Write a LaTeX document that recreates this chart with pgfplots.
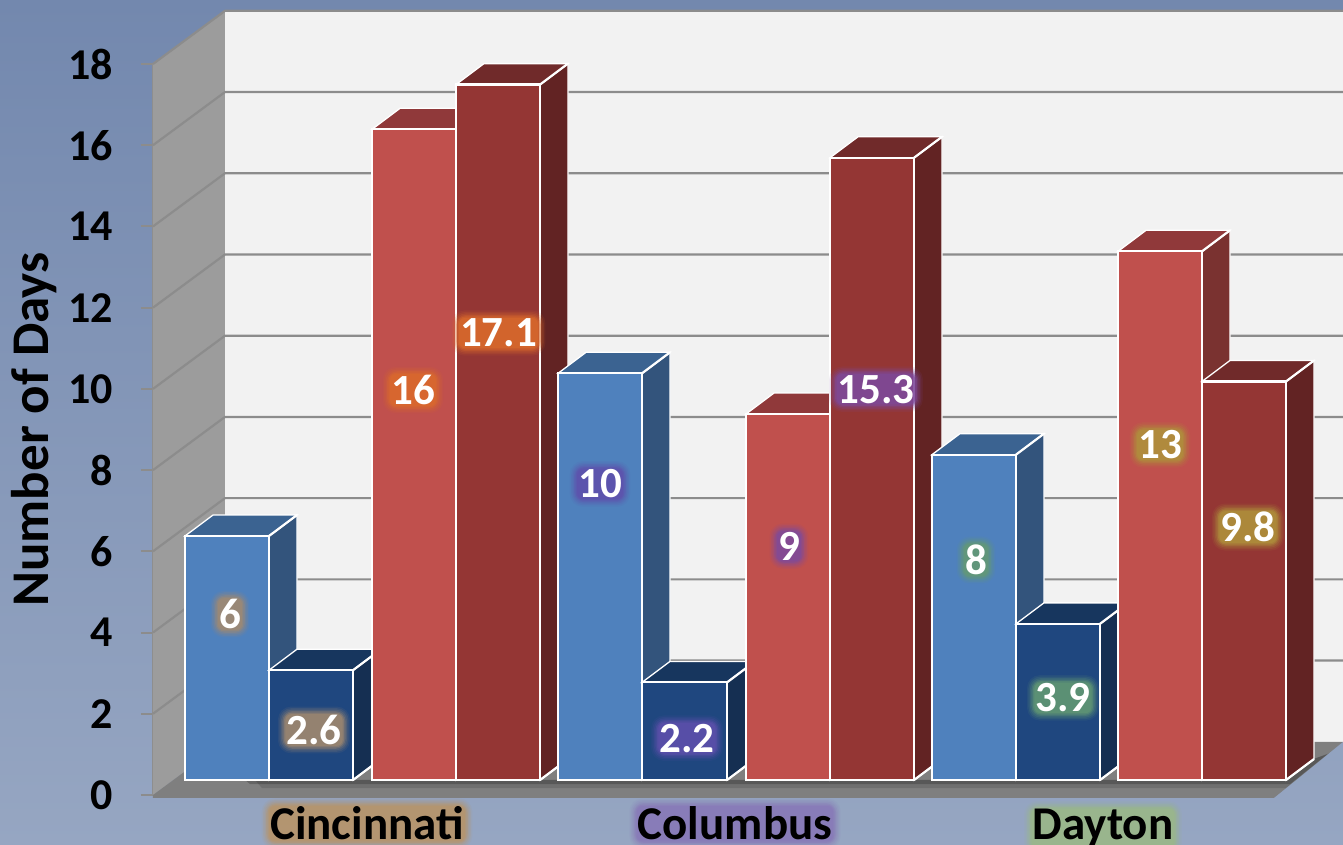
\documentclass[border=0pt]{standalone}
\usepackage{pgfplots}
\pgfplotsset{compat=1.18}
\usepackage{fontspec}
\setmainfont{Carlito}
\definecolor{bgtop}{HTML}{7388AE}
\definecolor{bgbot}{HTML}{96A6C2}
\definecolor{wall}{HTML}{F2F2F2}
\definecolor{lwall}{HTML}{9C9C9C}
\definecolor{floorc}{HTML}{7F7F7F}
\definecolor{gridc}{HTML}{8C8C8C}
\definecolor{bluF}{HTML}{4F81BD}\definecolor{bluS}{HTML}{33547C}\definecolor{bluT}{HTML}{3B6391}
\definecolor{nvyF}{HTML}{1F477F}\definecolor{nvyS}{HTML}{152F52}\definecolor{nvyT}{HTML}{17365E}
\definecolor{redF}{HTML}{C0504D}\definecolor{redS}{HTML}{7A3230}\definecolor{redT}{HTML}{90393A}
\definecolor{drkF}{HTML}{943634}\definecolor{drkS}{HTML}{622323}\definecolor{drkT}{HTML}{702A2A}
\definecolor{gBrown}{HTML}{A38A70}
\definecolor{gOrange}{HTML}{DB6A2C}
\definecolor{gBlue}{HTML}{5F50AC}
\definecolor{gPurple}{HTML}{7E4A9C}
\definecolor{gGreen}{HTML}{649A74}
\definecolor{gGold}{HTML}{B0923C}
\definecolor{gTan}{HTML}{B89468}
\definecolor{gViol}{HTML}{8878B8}
\definecolor{gLime}{HTML}{9AB888}
\newcommand\tickbf{\fontsize{44}{48}\bfseries\selectfont}
\newcommand\catbf{\fontsize{47}{52}\bfseries\selectfont}
\newcommand\titbf{\fontsize{53}{58}\bfseries\selectfont}
\newcommand\lblbf{\fontsize{43}{47}\bfseries\selectfont}
% one 3-D bar: x0, x1, height, front, side, top colours
\newcommand\tdbar[6]{%
  \pgfmathsetmacro\xa{#2+28}\pgfmathsetmacro\xb{#1+28}\pgfmathsetmacro\vb{#3+0.516}%
  \addplot[fill=#5,draw=white,line width=1.3pt,forget plot] coordinates {(#2,0)(\xa,0.516)(\xa,\vb)(#2,#3)} --cycle;
  \addplot[fill=#6,draw=white,line width=1.3pt,forget plot] coordinates {(#1,#3)(\xb,\vb)(\xa,\vb)(#2,#3)} --cycle;
  \addplot[white,line width=2.2pt,forget plot] coordinates {(#2,#3)(\xa,\vb)};
  \addplot[white,line width=2.2pt,forget plot] coordinates {(#2,0)(\xa,0.516)};
  \addplot[fill=#4,draw=white,line width=2.2pt,forget plot] coordinates {(#1,0)(#1,#3)(#2,#3)(#2,0)} --cycle;
}
\newcommand\halo[5]{% anchor, position, colour, font, text
  \node[anchor=#1,fill=#3,fill opacity=.10,inner sep=8.5pt,rounded corners=13pt,font=#4] at #2 {\phantom{#5}};
  \node[anchor=#1,fill=#3,fill opacity=.15,inner sep=7pt,rounded corners=12pt,font=#4] at #2 {\phantom{#5}};
  \node[anchor=#1,fill=#3,fill opacity=.20,inner sep=5.5pt,rounded corners=11pt,font=#4] at #2 {\phantom{#5}};
  \node[anchor=#1,fill=#3,fill opacity=.30,inner sep=4pt,rounded corners=10pt,font=#4] at #2 {\phantom{#5}};
  \node[anchor=#1,fill=#3,fill opacity=.45,inner sep=2.5pt,rounded corners=8pt,font=#4] at #2 {\phantom{#5}};
  \node[anchor=#1,fill=#3,fill opacity=.55,inner sep=1pt,rounded corners=6pt,font=#4] at #2 {\phantom{#5}};
}
\newcommand\lab[4]{% x, y, glow, text
  \halo{center}{(axis cs:#1,#2)}{#3}{\lblbf}{#4}
  \node[anchor=center,text=white,font=\lblbf,inner sep=0pt] at (axis cs:#1,#2) {#4};
}
\begin{document}
\begin{tikzpicture}[x=1pt,y=1pt]
\shade[top color=bgtop,bottom color=bgbot] (0,0) rectangle (1343,845);
\useasboundingbox (0,0) rectangle (1343,845);
\clip (0,0) rectangle (1343,845);
\halo{base}{(367,5)}{gTan}{\catbf}{Cincinnati}
\halo{base}{(735,5)}{gViol}{\catbf}{Columbus}
\halo{base}{(1103,5)}{gLime}{\catbf}{Dayton}
% walls, gridlines and value axis
\begin{axis}[
  at={(153pt,50pt)},anchor=south west,scale only axis,
  width=1190pt,height=731pt,clip=false,
  xmin=153,xmax=1343,ymin=0,ymax=18,
  axis x line=none,axis y line=left,
  axis line style={-,draw=gridc,line width=2pt},
  ytick={0,2,...,18},
  major tick length=12pt,tick align=outside,
  ytick style={draw=gridc,line width=2pt},
  tick label style={font=\tickbf,/pgf/number format/assume math mode=true},
  yticklabel style={inner sep=0pt,xshift=-28pt},
  ylabel={Number of Days},
  ylabel style={font=\titbf,at={(axis description cs:-0.0882,0.5)},anchor=base,rotate=0},
]
\addplot[fill=lwall,draw=none,forget plot] coordinates {(153,0)(225,1.31)(225,19.31)(153,18)} --cycle;
\addplot[fill=wall,draw=none,forget plot] coordinates {(225,1.31)(225,19.31)(1343,19.31)(1343,1.31)} --cycle;
\addplot[gridc,line width=2.2pt,forget plot] coordinates {(153,18)(225,19.31)(1343,19.31)};
\addplot[gridc,line width=2.2pt,forget plot] coordinates {(153,2)(225,3.31)(1343,3.31)};
\addplot[gridc,line width=2.2pt,forget plot] coordinates {(153,4)(225,5.31)(1343,5.31)};
\addplot[gridc,line width=2.2pt,forget plot] coordinates {(153,6)(225,7.31)(1343,7.31)};
\addplot[gridc,line width=2.2pt,forget plot] coordinates {(153,8)(225,9.31)(1343,9.31)};
\addplot[gridc,line width=2.2pt,forget plot] coordinates {(153,10)(225,11.31)(1343,11.31)};
\addplot[gridc,line width=2.2pt,forget plot] coordinates {(153,12)(225,13.31)(1343,13.31)};
\addplot[gridc,line width=2.2pt,forget plot] coordinates {(153,14)(225,15.31)(1343,15.31)};
\addplot[gridc,line width=2.2pt,forget plot] coordinates {(153,16)(225,17.31)(1343,17.31)};
\addplot[fill=floorc,draw=none,forget plot] coordinates {(153,-0.07)(153,0)(225,1.31)(1343,1.31)(1274,-0.07)} --cycle;
\addplot[fill=black,fill opacity=.12,draw=none,forget plot] coordinates {(255,.37)(1286,.37)(1315,.9)(1329,1.03)(1286,.17)(262,.17)} --cycle;
\addplot[fill=black,fill opacity=.2,draw=none,forget plot] coordinates {(245,.37)(1286,.37)(1315,.9)(1327,1.0)(1290,.27)(250,.27)} --cycle;
\end{axis}
% bars
\begin{axis}[
  at={(0pt,65pt)},anchor=south west,scale only axis,
  width=1343pt,height=732pt,clip=false,
  xmin=0,xmax=1343,ymin=0,ymax=18,
  axis y line=none,axis x line*=bottom,
  x axis line style={draw=none},
  xtick={367,735,1103},xticklabels={Cincinnati,Columbus,Dayton},
  xtick style={draw=none},major tick length=0pt,
  xticklabel style={font=\catbf,anchor=base,inner sep=0pt,yshift=-60pt},
]
\tdbar{185}{269}{6}{bluF}{bluS}{bluT}
\tdbar{269}{353}{2.7}{nvyF}{nvyS}{nvyT}
\tdbar{372}{456}{16}{redF}{redS}{redT}
\tdbar{456}{540}{17.1}{drkF}{drkS}{drkT}
\tdbar{558}{642}{10}{bluF}{bluS}{bluT}
\tdbar{642}{727}{2.4}{nvyF}{nvyS}{nvyT}
\tdbar{746}{830}{9}{redF}{redS}{redT}
\tdbar{830}{914}{15.3}{drkF}{drkS}{drkT}
\tdbar{932}{1016}{8}{bluF}{bluS}{bluT}
\tdbar{1016}{1100}{3.84}{nvyF}{nvyS}{nvyT}
\tdbar{1118}{1202}{13}{redF}{redS}{redT}
\tdbar{1202}{1286}{9.8}{drkF}{drkS}{drkT}
\lab{230}{4.08}{gBrown}{6}
\lab{314}{1.23}{gBrown}{2.6}
\lab{413}{9.59}{gOrange}{16}
\lab{498.5}{10.99}{gOrange}{17.1}
\lab{600}{7.28}{gBlue}{10}
\lab{687}{1.03}{gBlue}{2.2}
\lab{789}{5.75}{gPurple}{9}
\lab{876}{9.61}{gPurple}{15.3}
\lab{976}{5.41}{gGreen}{8}
\lab{1063}{2.02}{gGreen}{3.9}
\lab{1160}{8.24}{gGold}{13}
\lab{1248}{6.22}{gGold}{9.8}
\end{axis}
\end{tikzpicture}
\end{document}
